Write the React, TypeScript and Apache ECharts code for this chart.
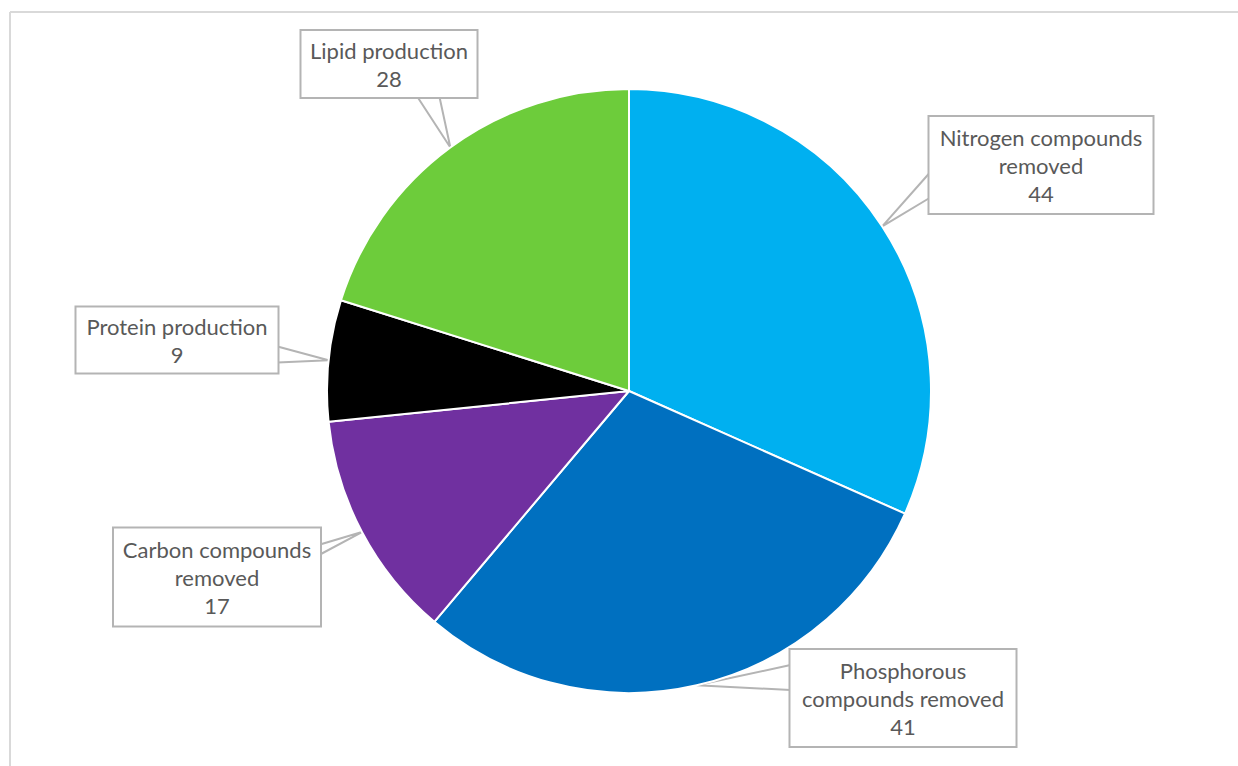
import React, { useEffect, useRef } from "react";
import * as echarts from "echarts";

const categories = [
  "Nitrogen compounds removed",
  "Phosphorous compounds removed",
  "Carbon compounds removed",
  "Protein production",
  "Lipid production",
];
const labelTexts = [
  "Nitrogen compounds\nremoved",
  "Phosphorous\ncompounds removed",
  "Carbon compounds\nremoved",
  "Protein production",
  "Lipid production",
];
const values = [44, 41, 17, 9, 28];
const colors = ["#00b0f0", "#0070c0", "#7030a0", "#000000", "#6dcc3b"];

// callout boxes (layout only): center, size, side of wedge, wedge base offsets along that side
const calloutBoxes = [
  { cx: 1041, cy: 165, w: 223, h: 96, side: "left", a: 56, b: 81 },
  { cx: 903, cy: 698, w: 225, h: 96, side: "left", a: 15, b: 40 },
  { cx: 217, cy: 577, w: 206, h: 97, side: "right", a: 16, b: 26 },
  { cx: 177, cy: 340, w: 201, h: 65, side: "right", a: 39, b: 55 },
  { cx: 389, cy: 64, w: 175, h: 66, side: "bottom", a: 116, b: 138 },
];

const CENTER = [629, 391];
const RADIUS = 302;
const LINE_H = 28;
const GRAY = "#b4b4b4";

export default function App() {
  const ref = useRef<HTMLDivElement>(null);
  useEffect(() => {
    if (!ref.current) return;
    document.body.style.margin = "0";
    document.body.style.overflow = "hidden";
    const chart = echarts.init(ref.current, null, { renderer: "svg" });
    const total = values.reduce((s, v) => s + v, 0);
    const tips: number[][] = [];
    let acc = 0;
    values.forEach((v) => {
      const mid = ((acc + v / 2) / total) * Math.PI * 2;
      tips.push([CENTER[0] + RADIUS * Math.sin(mid), CENTER[1] - RADIUS * Math.cos(mid)]);
      acc += v;
    });

    const data = categories.map((name, i) => {
      const c = calloutBoxes[i];
      const text = labelTexts[i] + "\n" + values[i];
      const lines = text.split("\n").length;
      const padV = (c.h - lines * LINE_H) / 2;
      return {
        name,
        value: values[i],
        itemStyle: { color: colors[i] },
        label: {
          width: c.w,
          padding: [padV, 0, padV, 0],
        },
      };
    });

    chart.setOption({
      animation: false,
      backgroundColor: "#ffffff",
      graphic: [
        {
          type: "line",
          shape: { x1: 10, y1: 12, x2: 1250, y2: 12 },
          style: { stroke: "#d9d9d9", lineWidth: 2 },
          silent: true,
        },
        {
          type: "line",
          shape: { x1: 10, y1: 12, x2: 10, y2: 780 },
          style: { stroke: "#d9d9d9", lineWidth: 2 },
          silent: true,
        },
      ],
      series: [
        {
          type: "pie",
          center: CENTER,
          radius: RADIUS,
          startAngle: 90,
          clockwise: true,
          avoidLabelOverlap: false,
          emphasis: { disabled: true },
          itemStyle: { borderColor: "#ffffff", borderWidth: 2 },
          label: {
            show: true,
            position: "outside",
            formatter: (p: any) => labelTexts[p.dataIndex] + "\n" + p.value,
            fontFamily: "Lato",
            fontSize: 22,
            lineHeight: LINE_H,
            color: "#595959",
            align: "center",
            backgroundColor: "#ffffff",
            borderColor: GRAY,
            borderWidth: 2,
          },
          labelLine: {
            show: true,
            length: 20,
            length2: 20,
            lineStyle: { color: GRAY, width: 2 },
          },
          labelLayout: (params: any) => {
            const i = params.dataIndex;
            const c = calloutBoxes[i];
            const x0 = c.cx - c.w / 2;
            const y0 = c.cy - c.h / 2;
            let A: number[];
            let B: number[];
            if (c.side === "left") {
              A = [x0, y0 + c.a];
              B = [x0, y0 + c.b];
            } else if (c.side === "right") {
              A = [x0 + c.w, y0 + c.a];
              B = [x0 + c.w, y0 + c.b];
            } else if (c.side === "top") {
              A = [x0 + c.a, y0];
              B = [x0 + c.b, y0];
            } else {
              A = [x0 + c.a, y0 + c.h];
              B = [x0 + c.b, y0 + c.h];
            }
            const tip = tips[i];
            return {
              x: c.cx,
              y: c.cy,
              align: "center",
              verticalAlign: "middle",
              labelLinePoints: [A, tip, B],
            };
          },
          data,
        },
      ],
    });
    return () => chart.dispose();
  }, []);
  return (
    <div
      ref={ref}
      style={{ position: "absolute", left: 0, top: 0, width: 1238, height: 766 }}
    />
  );
}
